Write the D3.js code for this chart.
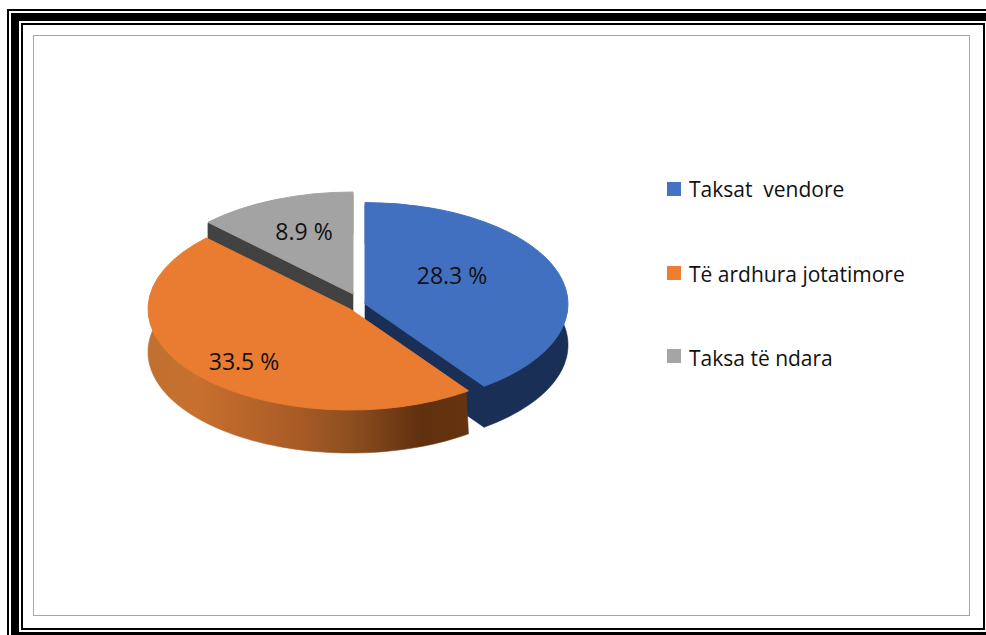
<!DOCTYPE html>
<html><head><meta charset="utf-8">
<script src="https://cdn.jsdelivr.net/npm/d3@7/dist/d3.min.js"></script>
<style>html,body{margin:0;padding:0;background:#fff}svg{display:block}text{font-family:"Open Sans",sans-serif;fill:#111;white-space:pre}</style>
</head><body><div id="c"></div>
<script>
const categories = ["Taksat  vendore", "Të ardhura jotatimore", "Taksa të ndara"];
const values = [28.3, 33.5, 8.9];
const labels = ["28.3 %", "33.5 %", "8.9 %"];
const legendColors = ["#4472c4", "#ed7d31", "#a5a5a5"];
const topColors = ["#4170c0", "#e97c30", "#a3a3a3"];
const wallColors = ["#1a2f55", "url(#wallOrange)", "#424242"];
const centers = [[365, 304], [350, 309], [353, 294]];
const radii = [203, 202, 204];
const depths = [41, 43, 42];
const labelPos = [[452, 276], [244, 362], [304, 232]];
const legendTextY = [197, 282, 366];
const legendSwatchY = [182, 266, 349];
const gradStops = [[0, "#c07030"], [0.15, "#c8702e"], [0.47, "#a85b26"], [0.63, "#8d4f20"], [0.85, "#60300f"], [1, "#653510"]];
const TILT = 0.5;

const svg = d3.select("#c").append("svg").attr("width", 986).attr("height", 635);

// frame
const frame = svg.append("g").attr("fill", "#000");
[[7, 9, 979, 2], [7, 9, 2, 626], [11, 13, 975, 8], [11, 13, 8, 622],
 [21, 23, 963, 2], [21, 23, 2, 607], [983, 23, 2, 607], [21, 628, 964, 2],
 [11, 632, 975, 3]].forEach(r =>
  frame.append("rect").attr("x", r[0]).attr("y", r[1]).attr("width", r[2]).attr("height", r[3]));
svg.append("rect").attr("x", 33.5).attr("y", 35.5).attr("width", 936).attr("height", 580)
  .attr("fill", "#fff").attr("stroke", "#a6a6a6").attr("stroke-width", 1);

const grad = svg.append("defs").append("linearGradient").attr("id", "wallOrange")
  .attr("gradientUnits", "userSpaceOnUse").attr("x1", 148).attr("x2", 469).attr("y1", 0).attr("y2", 0);
grad.selectAll("stop").data(gradStops).join("stop")
  .attr("offset", d => d[0]).attr("stop-color", d => d[1]);

const pie = d3.pie().sort(null).value(d => d);
const arcs = pie(values);
const line = d3.line();
const pt = (a, c, r, dy = 0) => [c[0] + r * Math.sin(a), c[1] - r * TILT * Math.cos(a) + dy];

// side wall: upper edge tucked under the top face, lower edge on the real rim
function rimPath(d, c, r, depth) {
  const n = 90;
  const t = d3.range(n + 1).map(i => d.startAngle + (d.endAngle - d.startAngle) * i / n);
  const upper = t.map(a => pt(a, c, r - 4));
  const lower = t.map(a => pt(a, c, r, depth)).reverse();
  return line(upper.concat(lower)) + "Z";
}
// cut face seen by the viewer, its top edge also tucked under the top face
function cutPath(angle, c, r, depth) {
  const e = pt(angle, c, r);
  return line([[c[0], c[1] - 2], pt(angle, c, r - 4, -2), [e[0], e[1] + 1], [e[0], e[1] + depth], [c[0], c[1] + depth]]) + "Z";
}

// paint order: back slice first, front slice last
[2, 0, 1].forEach(i => {
  const d = arcs[i], c = centers[i], r = radii[i], dp = depths[i];
  const g = svg.append("g");
  const seen = [];
  if (Math.sin(d.endAngle) > 0.01) seen.push(d.endAngle);
  if (Math.sin(d.startAngle) < -0.01) seen.push(d.startAngle);
  seen.map(a => cutPath(a, c, r, dp)).concat(rimPath(d, c, r, dp)).forEach(p =>
    g.append("path").attr("d", p).attr("fill", wallColors[i])
      .attr("stroke", wallColors[i]).attr("stroke-width", 0.6));
  g.append("path").attr("d", d3.arc().innerRadius(0).outerRadius(r)(d))
    .attr("transform", `translate(${c[0]},${c[1]}) scale(1,${TILT})`)
    .attr("fill", topColors[i]).attr("stroke", topColors[i]).attr("stroke-width", 1)
    .attr("vector-effect", "non-scaling-stroke");
});

svg.selectAll("text.lab").data(labels).join("text").attr("class", "lab")
  .attr("x", (d, i) => labelPos[i][0]).attr("y", (d, i) => labelPos[i][1])
  .attr("dy", "0.35em").attr("text-anchor", "middle").attr("font-size", 23).text(d => d);

const leg = svg.selectAll("g.leg").data(categories).join("g").attr("class", "leg");
leg.append("rect").attr("x", 667).attr("y", (d, i) => legendSwatchY[i]).attr("width", 14).attr("height", 14)
  .attr("fill", (d, i) => legendColors[i]);
leg.append("text").attr("x", 689).attr("y", (d, i) => legendTextY[i]).attr("font-size", 21).text(d => d);
</script></body></html>
